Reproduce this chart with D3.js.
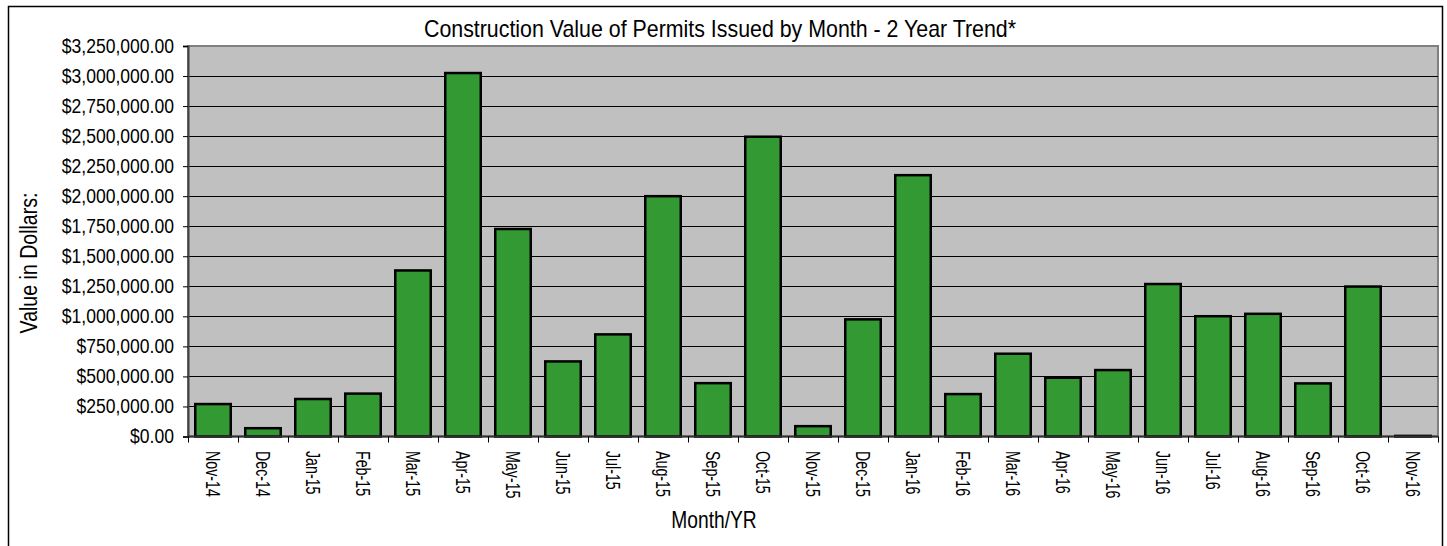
<!DOCTYPE html>
<html>
<head>
<meta charset="utf-8">
<script src="https://cdn.jsdelivr.net/npm/d3@7"></script>
<style>
  body { margin: 0; background: #fff; }
  text { font-family: "Liberation Sans", Arial, sans-serif; fill: #000; }
</style>
</head>
<body>
<div id="chart"></div>
<script>
// Data
const months = ["Nov-14", "Dec-14", "Jan-15", "Feb-15", "Mar-15", "Apr-15", "May-15", "Jun-15",
  "Jul-15", "Aug-15", "Sep-15", "Oct-15", "Nov-15", "Dec-15", "Jan-16", "Feb-16", "Mar-16",
  "Apr-16", "May-16", "Jun-16", "Jul-16", "Aug-16", "Sep-16", "Oct-16", "Nov-16"];
const values = [270000, 69000, 312000, 357000, 1382000, 3025000, 1727000, 625000,
  850000, 2000000, 444000, 2495000, 86000, 975000, 2175000, 353000, 689000,
  489000, 553000, 1269000, 1001000, 1021000, 442000, 1248000, 5000];
const yTicks = d3.range(0, 3250001, 250000);

const W = 1447, H = 546;
const plot = { left: 188, right: 1438, top: 46, bottom: 436.5 };

const svg = d3.select("#chart")
  .append("svg")
  .attr("width", W)
  .attr("height", H);

// squeeze text horizontally (the original text is narrow and tall)
function squeeze(sel, k) {
  sel.each(function() {
    const len = this.getComputedTextLength();
    d3.select(this)
      .attr("textLength", len * k)
      .attr("lengthAdjust", "spacingAndGlyphs");
  });
}

// chart border
svg.append("rect")
  .attr("x", 8.5)
  .attr("y", 6.5)
  .attr("width", 1434)
  .attr("height", 600)
  .attr("fill", "none")
  .attr("stroke", "#000")
  .attr("stroke-width", 1.5);

const x = d3.scaleBand()
  .domain(months)
  .range([plot.left, plot.right])
  .paddingInner(0.29)
  .paddingOuter(0.145);

const xEdge = d3.scaleLinear()
  .domain([0, months.length])
  .range([plot.left, plot.right]);

const y = d3.scaleLinear()
  .domain([0, 3250000])
  .range([plot.bottom, plot.top]);

// plot background
svg.append("rect")
  .attr("x", plot.left)
  .attr("y", plot.top)
  .attr("width", plot.right - plot.left)
  .attr("height", plot.bottom - plot.top)
  .attr("fill", "#c0c0c0")
  .attr("stroke", "#808080")
  .attr("stroke-width", 2);

// gridlines
svg.append("g")
  .selectAll("line")
  .data(yTicks.slice(1, -1))
  .enter()
  .append("line")
  .attr("x1", plot.left)
  .attr("x2", plot.right)
  .attr("y1", d => Math.round(y(d)) + 0.5)
  .attr("y2", d => Math.round(y(d)) + 0.5)
  .attr("stroke", "#000")
  .attr("stroke-width", 1);

// bars
svg.append("g")
  .selectAll("rect")
  .data(values)
  .enter()
  .append("rect")
  .attr("x", (d, i) => x(months[i]))
  .attr("y", d => y(d))
  .attr("width", x.bandwidth())
  .attr("height", d => plot.bottom - y(d))
  .attr("fill", "#339933")
  .attr("stroke", "#000")
  .attr("stroke-width", 2.5);

// Y axis
const yAxis = svg.append("g")
  .attr("transform", `translate(${plot.left},0)`)
  .call(d3.axisLeft(y)
    .tickValues(yTicks)
    .tickSize(5)
    .tickPadding(9)
    .tickFormat(d3.format("$,.2f")));
yAxis.select(".domain").attr("stroke", "#404040").attr("stroke-width", 2);
yAxis.selectAll(".tick line").attr("stroke", "#000");
yAxis.selectAll(".tick text")
  .attr("font-size", "19.5px")
  .attr("font-family", "Liberation Sans, Arial, sans-serif")
  .attr("fill", "#000")
  .call(squeeze, 0.9);

// X axis: ticks on band edges
svg.append("line")
  .attr("x1", plot.left)
  .attr("x2", plot.right)
  .attr("y1", plot.bottom)
  .attr("y2", plot.bottom)
  .attr("stroke", "#303030")
  .attr("stroke-width", 2);

svg.append("g")
  .selectAll("line")
  .data(d3.range(months.length + 1))
  .enter()
  .append("line")
  .attr("x1", d => Math.round(xEdge(d)) + 0.5)
  .attr("x2", d => Math.round(xEdge(d)) + 0.5)
  .attr("y1", plot.bottom)
  .attr("y2", plot.bottom + 6)
  .attr("stroke", "#000");

svg.append("g")
  .selectAll("text")
  .data(months)
  .enter()
  .append("text")
  .attr("transform", d => `translate(${x(d) + x.bandwidth() / 2},451) rotate(90)`)
  .attr("dy", "0.35em")
  .attr("text-anchor", "start")
  .attr("font-size", "19.5px")
  .text(d => d)
  .call(squeeze, 0.73);

// Title
svg.append("text")
  .attr("x", 720)
  .attr("y", 37)
  .attr("text-anchor", "middle")
  .attr("font-size", "24px")
  .text("Construction Value of Permits Issued by Month - 2 Year Trend*")
  .call(squeeze, 0.89);

// Axis titles
svg.append("text")
  .attr("transform", "translate(37,263) rotate(-90)")
  .attr("text-anchor", "middle")
  .attr("font-size", "23px")
  .text("Value in Dollars:")
  .call(squeeze, 0.85);

svg.append("text")
  .attr("x", 714)
  .attr("y", 528)
  .attr("text-anchor", "middle")
  .attr("font-size", "24px")
  .text("Month/YR")
  .call(squeeze, 0.8);
</script>
</body>
</html>
